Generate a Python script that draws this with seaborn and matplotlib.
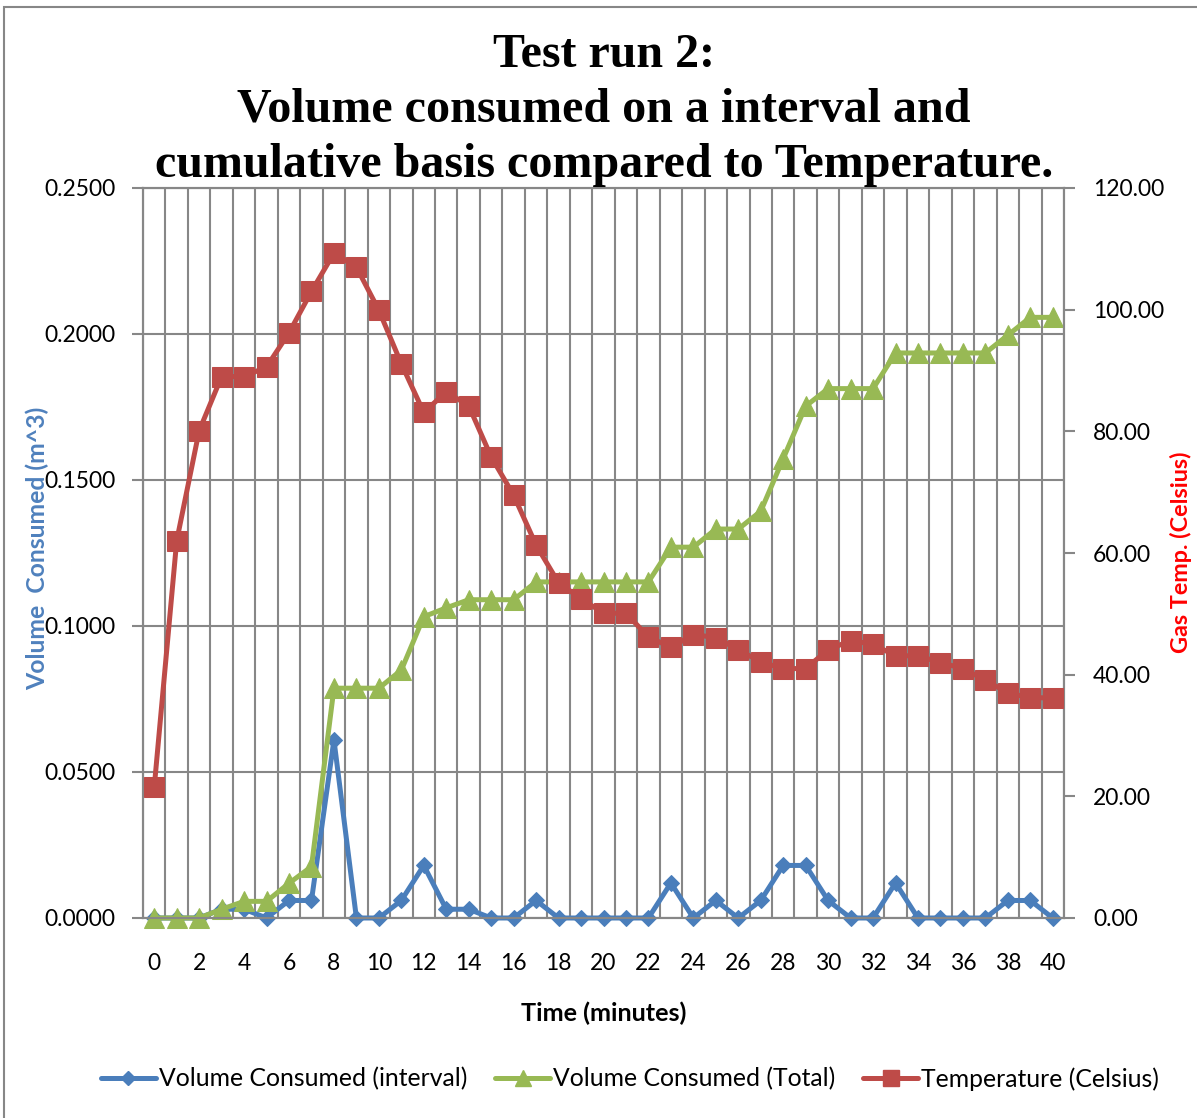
import matplotlib
matplotlib.use("Agg")
import matplotlib.pyplot as plt
import seaborn as sns
import numpy as np
import pandas as pd
from matplotlib.patches import Rectangle
from matplotlib.lines import Line2D
from matplotlib.ticker import FixedLocator, FormatStrFormatter

# ---- data -------------------------------------------------------------
minutes = list(range(41))

vol_interval = [0, 0, 0, 0.003, 0.003, 0, 0.006, 0.006, 0.061, 0,
                0, 0.006, 0.018, 0.003, 0.003, 0, 0, 0.006, 0, 0,
                0, 0, 0, 0.012, 0, 0.006, 0, 0.006, 0.018, 0.018,
                0.006, 0, 0, 0.012, 0, 0, 0, 0, 0.006, 0.006,
                0]

vol_total = [0, 0, 0, 0.003, 0.0057, 0.0057, 0.0119, 0.0176, 0.0787, 0.0787,
             0.0787, 0.0849, 0.1032, 0.1062, 0.1090, 0.1090, 0.1090, 0.1151, 0.1151, 0.1151,
             0.1151, 0.1151, 0.1151, 0.1270, 0.1270, 0.1332, 0.1332, 0.1393, 0.1573, 0.1753,
             0.1813, 0.1813, 0.1813, 0.1935, 0.1935, 0.1935, 0.1935, 0.1935, 0.1996, 0.2057,
             0.2057]

temperature = [21.5, 62.0, 80.1, 89.0, 89.0, 90.6, 96.2, 103.0, 109.3, 107.0,
               99.9, 91.1, 83.1, 86.5, 84.2, 75.8, 69.5, 61.3, 55.1, 52.5,
               50.1, 50.1, 46.2, 44.5, 46.6, 46.1, 44.1, 42.1, 41.0, 41.0,
               44.1, 45.6, 45.0, 43.1, 43.1, 42.0, 41.0, 39.1, 37.0, 36.2,
               36.2]

x_tick_labels = [str(m) for m in range(0, 41, 2)]
vol_ticks = [0.0, 0.05, 0.10, 0.15, 0.20, 0.25]
temp_ticks = [0, 20, 40, 60, 80, 100, 120]

title_lines = ["Test run 2:",
               "Volume consumed on a interval and",
               "cumulative basis compared to Temperature."]
series_names = ["Volume Consumed (interval)",
                "Volume Consumed (Total)",
                "Temperature (Celsius)"]

# ---- style ------------------------------------------------------------
sns.set_style("white")
plt.rcParams["font.family"] = ["Lato", "DejaVu Sans"]
plt.rcParams["text.color"] = "black"
plt.rcParams["xtick.labelcolor"] = "black"
plt.rcParams["ytick.labelcolor"] = "black"

BLUE = "#4A7EBB"
GREEN = "#98B954"
RED = "#BE4B48"
GRID = "#878787"
TICK_FS = 16.5
LABEL_FS = 17.8

W, H = 1197, 1118
fig = plt.figure(figsize=(W / 100, H / 100), dpi=100)
fig.patch.set_facecolor("white")

ax = fig.add_axes([143 / W, 1 - 918 / H, (1064 - 143) / W, (918 - 188) / H])
ax2 = ax.twinx()

df = pd.DataFrame({"minute": minutes, "interval": vol_interval,
                   "total": vol_total, "temp": temperature})

line_kw = dict(linewidth=3.6, clip_on=False, legend=False)
sns.lineplot(data=df, x="minute", y="interval", ax=ax, color=BLUE,
             marker="D", markersize=8.5, markeredgecolor=BLUE, zorder=3, **line_kw)
sns.lineplot(data=df, x="minute", y="total", ax=ax, color=GREEN,
             marker="^", markersize=14, markeredgecolor=GREEN, zorder=4, **line_kw)
sns.lineplot(data=df, x="minute", y="temp", ax=ax2, color=RED,
             marker="s", markersize=14, markeredgecolor=RED, zorder=5, **line_kw)

# ---- axes -------------------------------------------------------------
ax.set_xlim(-0.5, 40.5)
ax.set_ylim(0, 0.25)
ax2.set_ylim(0, 120)

ax.xaxis.set_major_locator(FixedLocator(range(0, 41, 2)))
ax.set_xticklabels(x_tick_labels)
ax.xaxis.set_minor_locator(FixedLocator(np.arange(-0.5, 41, 1.0)))
ax.tick_params(axis="x", which="both", length=0, pad=25, labelsize=TICK_FS,
               labelcolor="black")

ax.yaxis.set_major_locator(FixedLocator(vol_ticks))
ax.yaxis.set_major_formatter(FormatStrFormatter("%.4f"))
ax.tick_params(axis="y", which="major", direction="out", length=8, width=1.5,
               color=GRID, pad=12, labelsize=TICK_FS, labelcolor="black")

ax2.yaxis.set_major_locator(FixedLocator(temp_ticks))
ax2.yaxis.set_major_formatter(FormatStrFormatter("%.2f"))
ax2.tick_params(axis="y", which="major", direction="out", length=8, width=1.5,
                color=GRID, pad=13, labelsize=TICK_FS, labelcolor="black")

ax.grid(False)
ax2.grid(False)
ax.grid(which="minor", axis="x", color=GRID, linewidth=1.5)
ax.grid(which="major", axis="y", color=GRID, linewidth=1.5)
ax.set_axisbelow(True)

for a in (ax, ax2):
    for sp in a.spines.values():
        sp.set_visible(True)
        sp.set_color(GRID)
        sp.set_linewidth(1.5)

ax.set_xlabel("")
ax.set_ylabel("")
ax2.set_ylabel("")

# ---- text -------------------------------------------------------------
for line, base_y in zip(title_lines, [67, 122, 177]):
    fig.text(604 / W, 1 - base_y / H, line, ha="center", va="baseline",
             fontsize=34.6, fontweight="bold", family="Liberation Serif", color="black")

fig.text(37 / W, 1 - 548 / H, "Volume  Consumed (m^3)", rotation=90,
         ha="center", va="center", color="#4F81BD", fontweight="bold", fontsize=LABEL_FS)
fig.text(1181 / W, 1 - 552 / H, "Gas Temp. (Celsius)", rotation=90,
         ha="center", va="center", color="#FF0000", fontweight="bold", fontsize=16.8)
fig.text(604 / W, 1 - 1013 / H, "Time (minutes)", ha="center", va="center",
         fontweight="bold", fontsize=18.2, color="black")

# ---- legend -----------------------------------------------------------
handles = [
    Line2D([], [], color=BLUE, lw=3.6, marker="D", markersize=7.5, markeredgecolor=BLUE),
    Line2D([], [], color=GREEN, lw=3.6, marker="^", markersize=12, markeredgecolor=GREEN),
    Line2D([], [], color=RED, lw=3.6, marker="s", markersize=11, markeredgecolor=RED),
]
fig.legend(handles, series_names, loc="center", bbox_to_anchor=(630 / W, 1 - 1079 / H),
           ncol=3, frameon=False, fontsize=LABEL_FS, handlelength=2.25,
           handletextpad=0.12, columnspacing=1.1)

# chart-area frame
fig.patches.append(Rectangle((4 / W, -1), 2, 1 - 7 / H + 1, transform=fig.transFigure,
                             fill=False, edgecolor=GRID, linewidth=1.5))

fig.savefig("out.png", dpi=100)
